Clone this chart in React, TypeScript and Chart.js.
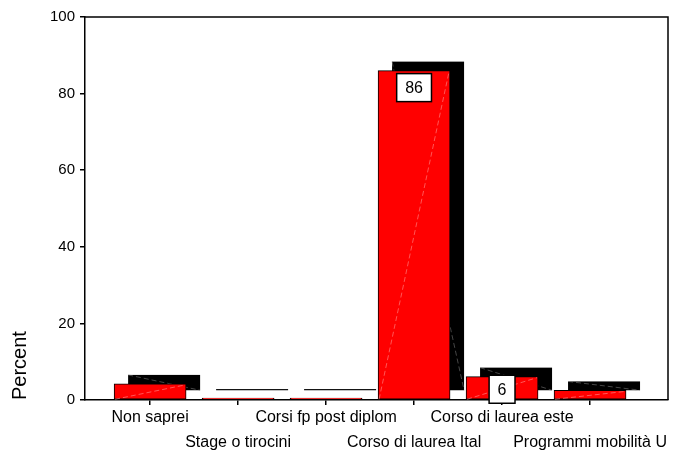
import React, { useEffect, useRef } from 'react';
import { Chart, registerables } from 'chart.js';

Chart.register(...registerables);

const categories = [
  'Non saprei',
  'Stage o tirocini',
  'Corsi fp post diplom',
  'Corso di laurea Ital',
  'Corso di laurea este',
  'Programmi mobilità U',
];
const percents = [4.2, 0.5, 0.5, 86.0, 6.1, 2.5];
const valueLabels = ['', '', '', '86', '6', ''];
const yTicks = [0, 20, 40, 60, 80, 100];

const FONT = "'Liberation Sans', Arial, sans-serif";
const X_MIN = -0.74;
const X_MAX = 5.886;
const DX = 14;
const DY = -9;

const effectsPlugin = {
  id: 'effects3d',
  beforeDatasetsDraw(chart: any) {
    const ctx = chart.ctx;
    const meta = chart.getDatasetMeta(0);
    ctx.save();
    meta.data.forEach((el: any) => {
      const { x, y, base, width } = el.getProps(['x', 'y', 'base', 'width'], true);
      const l = x - width / 2 + DX;
      const r = x + width / 2 + DX;
      const t = y + DY;
      const b = base + DY;
      ctx.fillStyle = '#000';
      ctx.fillRect(l, t, r - l, b - t);
      if (b - t > 6) {
        ctx.strokeStyle = 'rgba(130,130,130,0.9)';
        ctx.lineWidth = 0.6;
        ctx.setLineDash([5, 3]);
        ctx.beginPath();
        ctx.moveTo(l, t);
        ctx.lineTo(r, b);
        ctx.stroke();
        ctx.setLineDash([]);
      }
    });
    ctx.restore();
  },
  afterDatasetsDraw(chart: any) {
    const ctx = chart.ctx;
    const meta = chart.getDatasetMeta(0);
    const area = chart.chartArea;
    ctx.save();
    meta.data.forEach((el: any, i: number) => {
      const { x, y, base, width } = el.getProps(['x', 'y', 'base', 'width'], true);
      const l = x - width / 2;
      const r = x + width / 2;
      if (base - y > 6) {
        ctx.strokeStyle = 'rgba(255,160,160,0.9)';
        ctx.lineWidth = 0.6;
        ctx.setLineDash([5, 3]);
        ctx.beginPath();
        ctx.moveTo(l + 1, base);
        ctx.lineTo(r - 1, y + 1);
        ctx.stroke();
        ctx.setLineDash([]);
      }
      const txt = valueLabels[i];
      if (txt) {
        ctx.font = `16px ${FONT}`;
        const tw = ctx.measureText(txt).width;
        const bw = tw + 17;
        const bh = 28;
        let top = y + 3;
        if (top + bh > base + 4) top = base + 4 - bh;
        ctx.fillStyle = '#fff';
        ctx.fillRect(x - bw / 2, top, bw, bh);
        ctx.strokeStyle = '#000';
        ctx.lineWidth = 1.5;
        ctx.strokeRect(x - bw / 2, top, bw, bh);
        ctx.fillStyle = '#000';
        ctx.textAlign = 'center';
        ctx.textBaseline = 'middle';
        ctx.fillText(txt, x, top + bh / 2 + 1);
      }
    });
    // frame: top and right
    ctx.strokeStyle = '#000';
    ctx.lineWidth = 1.5;
    ctx.beginPath();
    ctx.moveTo(area.left, area.top);
    ctx.lineTo(area.right, area.top);
    ctx.lineTo(area.right, area.bottom);
    ctx.stroke();
    ctx.restore();
  },
};

export default function App() {
  const canvasRef = useRef<HTMLCanvasElement | null>(null);

  useEffect(() => {
    document.body.style.margin = '0';
    const canvas = canvasRef.current;
    if (!canvas) return;
    const chart = new Chart(canvas, {
      type: 'bar',
      data: {
        datasets: [
          {
            data: percents.map((v, i) => ({ x: i, y: v })),
            backgroundColor: '#ff0000',
            borderColor: '#000',
            borderWidth: 1,
            borderSkipped: false,
            barThickness: 72,
          },
        ],
      },
      options: {
        responsive: false,
        animation: false,
        events: [],
        layout: { padding: { top: 17, right: 9, left: 0, bottom: 0 } },
        plugins: { legend: { display: false }, tooltip: { enabled: false } },
        scales: {
          x: {
            type: 'linear',
            min: X_MIN,
            max: X_MAX,
            offset: false,
            afterBuildTicks: (s: any) => {
              s.ticks = categories.map((_, i) => ({ value: i }));
            },
            afterFit: (s: any) => {
              s.height = 53;
            },
            ticks: {
              autoSkip: false,
              maxRotation: 0,
              minRotation: 0,
              padding: 0,
              color: '#000',
              font: { family: FONT, size: 16, lineHeight: 1.5625 },
              callback: (v: any) => {
                const i = Math.round(Number(v));
                const name = categories[i] ?? '';
                return i % 2 === 0 ? name : ['', name];
              },
            },
            grid: {
              offset: false,
              drawOnChartArea: false,
              drawTicks: true,
              tickLength: 5,
              color: '#000',
              lineWidth: 1.5,
            },
            border: { display: true, color: '#000', width: 1.5 },
          } as any,
          y: {
            min: 0,
            max: 100,
            afterBuildTicks: (s: any) => {
              s.ticks = yTicks.map((v) => ({ value: v }));
            },
            afterFit: (s: any) => {
              s.width = 85;
            },
            ticks: {
              padding: 5,
              color: '#000',
              font: { family: FONT, size: 15 },
            },
            grid: {
              drawOnChartArea: false,
              drawTicks: true,
              tickLength: 5,
              color: '#000',
              lineWidth: 1.5,
            },
            border: { display: true, color: '#000', width: 1.5 },
            title: {
              display: true,
              text: 'Percent',
              align: 'start',
              color: '#000',
              font: { family: FONT, size: 20 },
              padding: { top: 8, bottom: 0 },
            },
          },
        },
      },
      plugins: [effectsPlugin],
    });
    return () => chart.destroy();
  }, []);

  return (
    <div style={{ position: 'absolute', left: 0, top: 0, width: 677, height: 453 }}>
      <canvas ref={canvasRef} width={677} height={453} />
    </div>
  );
}
